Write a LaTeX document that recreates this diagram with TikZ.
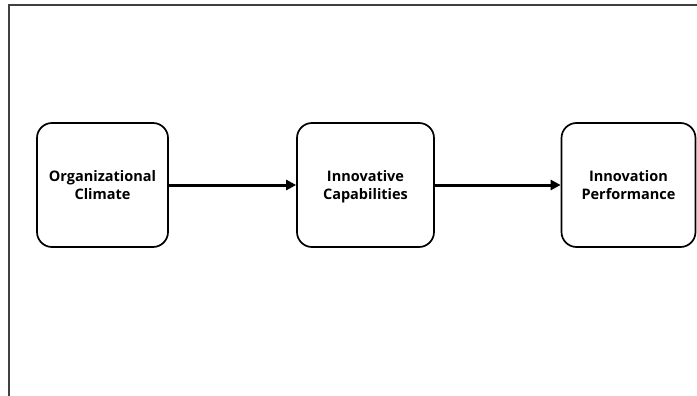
\documentclass[tikz,border=0pt]{standalone}
\usepackage{fontspec}
\setmainfont{Open Sans}
\usetikzlibrary{arrows.meta}
\begin{document}
\begin{tikzpicture}[x=1pt,y=-1pt,
  box/.style={draw=black, line width=1.7pt, rounded corners=15pt, minimum height=124pt, align=center, font=\bfseries\fontsize{14.5}{18}\selectfont, inner sep=0pt},
  conn/.style={line width=3pt, -{Triangle[length=10pt,width=10pt]}},
  frame/.style={draw=black!75, line width=2pt}]
\useasboundingbox (0,0) rectangle (697,396);
\coordinate (ftr) at (697,5.5);
\coordinate (ftl) at (8.5,5.5);
\coordinate (fbl) at (8.5,396);
\draw[frame] (ftr) -- (ftl) -- (fbl);
\node[box, minimum width=131pt] (oc) at (102.5,185) {Organizational\\Climate};
\node[box, minimum width=137pt] (ic) at (365.5,185) {Innovative\\\smash{Capabilities}};
\node[box, minimum width=134pt] (ip) at (628.5,185) {Innovation\\Performance};
\draw[conn] (oc) -- (ic);
\draw[conn] (ic) -- (ip);
\end{tikzpicture}
\end{document}
